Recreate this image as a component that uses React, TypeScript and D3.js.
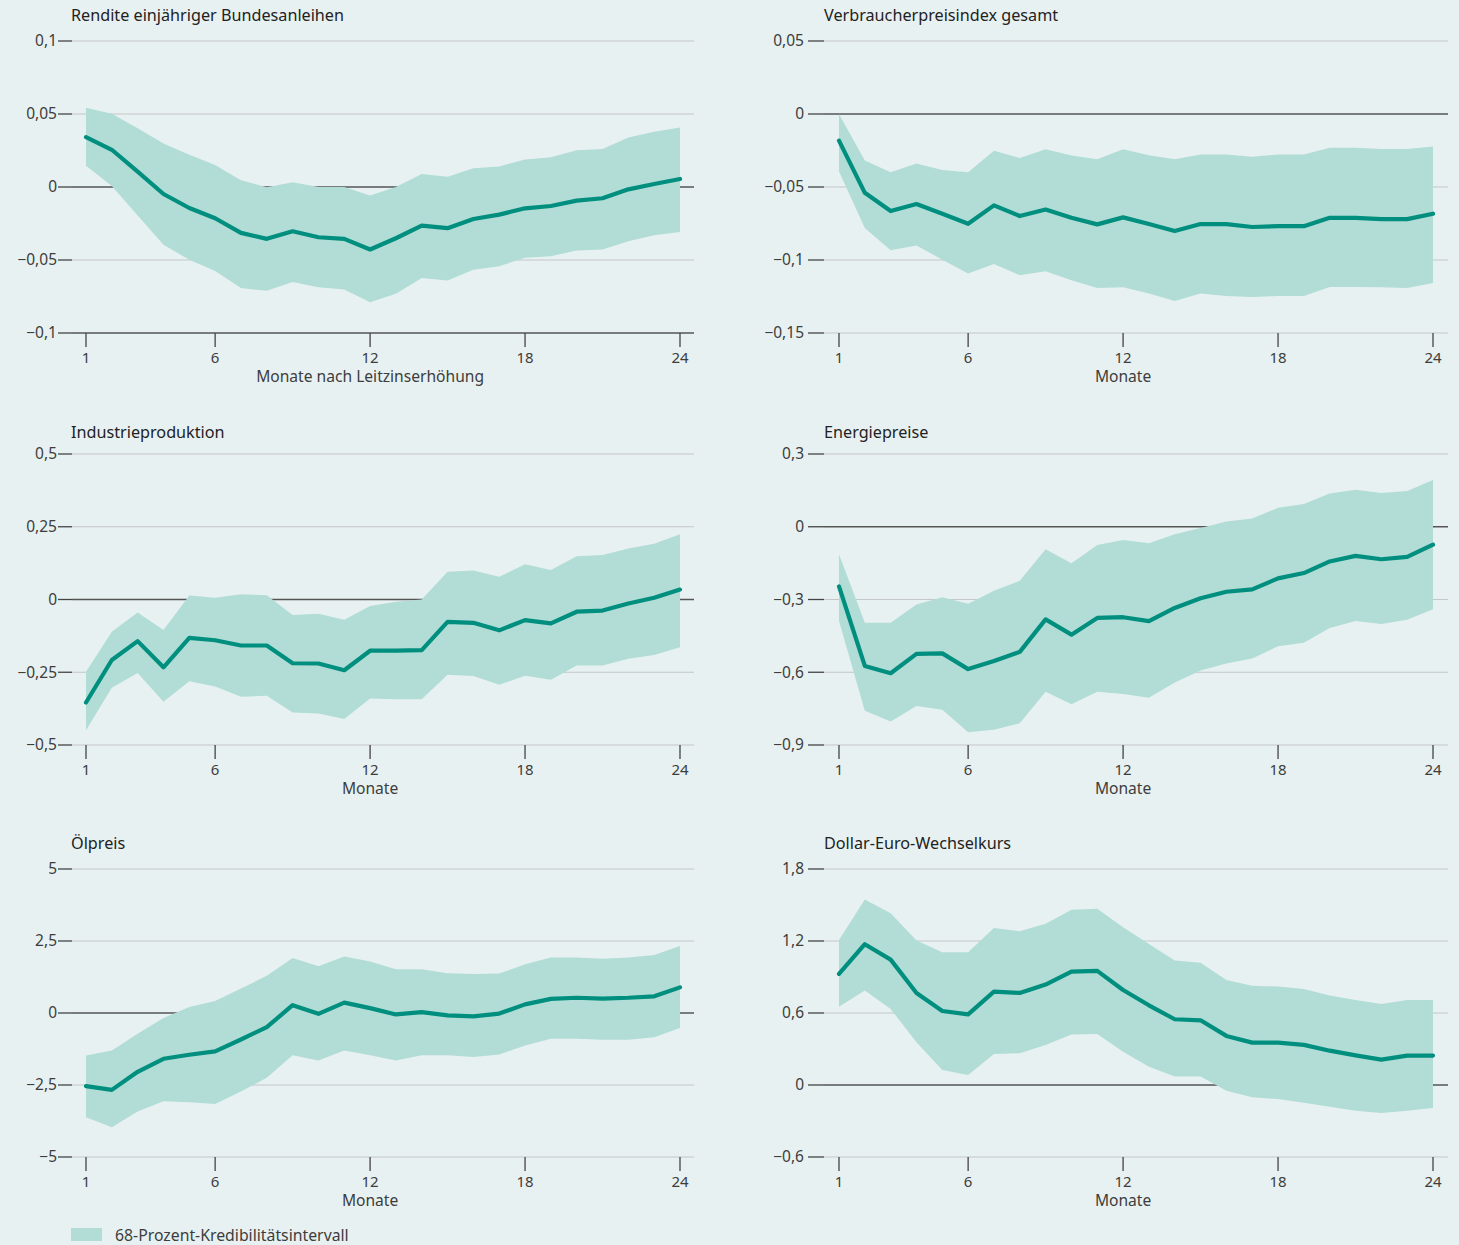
import React from 'react'
import * as d3 from 'd3'

const months = d3.range(1, 25)
const xTickValues = [1, 6, 12, 18, 24]

// Rendite einjähriger Bundesanleihen
const bundMid = [0.0342, 0.0255, 0.0105, -0.0048, -0.0144, -0.0214, -0.0314, -0.0355, -0.0303, -0.0344, -0.0355, -0.0428, -0.0351, -0.0264, -0.0282, -0.0219, -0.0189, -0.0146, -0.013, -0.0093, -0.0077, -0.0016, 0.0021, 0.0055]
const bundHi = [0.0542, 0.0501, 0.0403, 0.0298, 0.0221, 0.015, 0.0046, -0.0002, 0.0032, 0, 0, -0.0059, 0, 0.0089, 0.0071, 0.0128, 0.0141, 0.0189, 0.0203, 0.0251, 0.026, 0.0339, 0.0378, 0.0408]
const bundLo = [0.0146, 0.0007, -0.0196, -0.0396, -0.0499, -0.0576, -0.0692, -0.0711, -0.0651, -0.0686, -0.0702, -0.079, -0.0731, -0.0624, -0.064, -0.0567, -0.0542, -0.0485, -0.0474, -0.0435, -0.0428, -0.0371, -0.033, -0.0308]

// Verbraucherpreisindex gesamt
const vpiMid = [-0.0182, -0.054, -0.0665, -0.0617, -0.0683, -0.0752, -0.0626, -0.0699, -0.0654, -0.0711, -0.0756, -0.0708, -0.0754, -0.0802, -0.0754, -0.0754, -0.0774, -0.0768, -0.0768, -0.0711, -0.0711, -0.072, -0.072, -0.0683]
const vpiHi = [0, -0.0319, -0.0399, -0.0339, -0.0383, -0.0399, -0.0251, -0.0301, -0.0241, -0.0285, -0.031, -0.0241, -0.0282, -0.031, -0.0278, -0.0278, -0.0292, -0.0278, -0.0278, -0.0232, -0.0232, -0.0239, -0.0239, -0.0223]
const vpiLo = [-0.0394, -0.0781, -0.0934, -0.09, -0.0998, -0.1093, -0.1027, -0.1105, -0.1077, -0.1139, -0.1191, -0.1187, -0.123, -0.128, -0.123, -0.1246, -0.1253, -0.1246, -0.1246, -0.1185, -0.1185, -0.1187, -0.1191, -0.1157]

// Industrieproduktion
const indMid = [-0.354, -0.208, -0.143, -0.233, -0.132, -0.14, -0.158, -0.158, -0.219, -0.22, -0.243, -0.176, -0.176, -0.174, -0.077, -0.08, -0.106, -0.071, -0.082, -0.042, -0.038, -0.014, 0.006, 0.034]
const indHi = [-0.248, -0.111, -0.045, -0.105, 0.014, 0.006, 0.018, 0.015, -0.053, -0.049, -0.07, -0.022, -0.008, 0, 0.095, 0.1, 0.078, 0.121, 0.101, 0.149, 0.153, 0.175, 0.192, 0.224]
const indLo = [-0.449, -0.303, -0.253, -0.351, -0.281, -0.299, -0.334, -0.331, -0.388, -0.392, -0.411, -0.34, -0.343, -0.343, -0.259, -0.263, -0.293, -0.262, -0.276, -0.227, -0.227, -0.204, -0.191, -0.164]

// Energiepreise
const enMid = [-0.246, -0.574, -0.604, -0.524, -0.522, -0.587, -0.554, -0.516, -0.382, -0.445, -0.376, -0.373, -0.389, -0.335, -0.295, -0.268, -0.258, -0.213, -0.191, -0.143, -0.12, -0.134, -0.124, -0.074]
const enHi = [-0.113, -0.396, -0.396, -0.321, -0.291, -0.318, -0.264, -0.223, -0.093, -0.15, -0.075, -0.055, -0.068, -0.031, -0.005, 0.022, 0.034, 0.078, 0.094, 0.137, 0.153, 0.139, 0.147, 0.193]
const enLo = [-0.389, -0.759, -0.803, -0.739, -0.755, -0.847, -0.837, -0.81, -0.68, -0.732, -0.68, -0.69, -0.705, -0.642, -0.593, -0.564, -0.543, -0.493, -0.478, -0.418, -0.389, -0.401, -0.384, -0.34]

// Ölpreis
const oilMid = [-2.54, -2.67, -2.04, -1.59, -1.45, -1.33, -0.92, -0.49, 0.27, -0.03, 0.36, 0.17, -0.05, 0.03, -0.08, -0.12, -0.02, 0.3, 0.49, 0.53, 0.5, 0.53, 0.58, 0.89]
const oilHi = [-1.48, -1.3, -0.72, -0.17, 0.21, 0.42, 0.85, 1.29, 1.91, 1.62, 1.96, 1.79, 1.52, 1.52, 1.38, 1.35, 1.37, 1.69, 1.93, 1.93, 1.88, 1.93, 2.01, 2.33]
const oilLo = [-3.62, -3.97, -3.42, -3.06, -3.1, -3.16, -2.73, -2.25, -1.47, -1.65, -1.3, -1.47, -1.65, -1.47, -1.47, -1.53, -1.44, -1.13, -0.89, -0.89, -0.93, -0.93, -0.84, -0.52]

// Dollar-Euro-Wechselkurs
const fxMid = [0.926, 1.173, 1.045, 0.767, 0.617, 0.589, 0.778, 0.767, 0.837, 0.945, 0.951, 0.792, 0.664, 0.548, 0.539, 0.409, 0.353, 0.353, 0.334, 0.286, 0.247, 0.211, 0.245, 0.245]
const fxHi = [1.209, 1.546, 1.432, 1.204, 1.106, 1.106, 1.309, 1.282, 1.343, 1.46, 1.468, 1.315, 1.176, 1.037, 1.018, 0.876, 0.828, 0.82, 0.801, 0.745, 0.709, 0.676, 0.709, 0.709]
const fxLo = [0.653, 0.787, 0.634, 0.356, 0.125, 0.083, 0.259, 0.264, 0.334, 0.42, 0.425, 0.278, 0.153, 0.07, 0.07, -0.047, -0.103, -0.117, -0.147, -0.181, -0.214, -0.234, -0.214, -0.192]

const bundTicks = [-0.1, -0.05, 0, 0.05, 0.1]
const vpiTicks = [-0.15, -0.1, -0.05, 0, 0.05]
const indTicks = [-0.5, -0.25, 0, 0.25, 0.5]
const enTicks = [-0.9, -0.6, -0.3, 0, 0.3]
const oilTicks = [-5, -2.5, 0, 2.5, 5]
const fxTicks = [-0.6, 0, 0.6, 1.2, 1.8]

const panels = [
  { title: 'Rendite einjähriger Bundesanleihen', xTitle: 'Monate nach Leitzinserhöhung', col: 0, row: 0, ticks: bundTicks, mid: bundMid, hi: bundHi, lo: bundLo, darkBottom: true },
  { title: 'Verbraucherpreisindex gesamt', xTitle: 'Monate', col: 1, row: 0, ticks: vpiTicks, mid: vpiMid, hi: vpiHi, lo: vpiLo },
  { title: 'Industrieproduktion', xTitle: 'Monate', col: 0, row: 1, ticks: indTicks, mid: indMid, hi: indHi, lo: indLo },
  { title: 'Energiepreise', xTitle: 'Monate', col: 1, row: 1, ticks: enTicks, mid: enMid, hi: enHi, lo: enLo },
  { title: 'Ölpreis', xTitle: 'Monate', col: 0, row: 2, ticks: oilTicks, mid: oilMid, hi: oilHi, lo: oilLo },
  { title: 'Dollar-Euro-Wechselkurs', xTitle: 'Monate', col: 1, row: 2, ticks: fxTicks, mid: fxMid, hi: fxHi, lo: fxLo },
]

const cols = [
  { tick0: 58, plot0: 72, plot1: 694, m1: 86, m24: 680, titleX: 71 },
  { tick0: 808, plot0: 824, plot1: 1448, m1: 839, m24: 1433, titleX: 824 },
]
const rows = [
  { top: 41, bottom: 333, titleY: 15 },
  { top: 454, bottom: 745, titleY: 432 },
  { top: 869, bottom: 1157, titleY: 843 },
]

const bg = '#e8f1f1'
const bandColor = '#b1ddd6'
const lineColor = '#008f7f'
const font = "'Noto Sans', 'Open Sans', sans-serif"
const textColor = '#3d3d3d'

const fmt = (v: number) => String(v).replace('.', ',').replace('-', '\u2212')

const Panel = ({ p }: { p: (typeof panels)[number] }) => {
  const c = cols[p.col]
  const r = rows[p.row]
  const x = d3.scaleLinear().domain([1, 24]).range([c.m1, c.m24])
  const y = d3.scaleLinear().domain(d3.extent(p.ticks) as [number, number]).range([r.bottom, r.top])
  const band = d3.area<number>().x((m) => x(m)).y0((m, i) => y(p.lo[i])).y1((m, i) => y(p.hi[i]))
  const line = d3.line<number>().x((m) => x(m)).y((m, i) => y(p.mid[i]))
  const minTick = d3.min(p.ticks)

  return (
    <g>
      <text x={c.titleX} y={r.titleY + 5.5} fontSize={16.2} fill="#222">{p.title}</text>
      {p.ticks.map((t) => {
        const dark = t === 0 || (p.darkBottom && t === minTick)
        return (
          <g key={t}>
            <line x1={c.plot0} x2={c.plot1} y1={y(t)} y2={y(t)} stroke={dark ? '#555' : '#c3c7c9'} strokeWidth={dark ? 1.3 : 1.2} />
            <line x1={c.tick0} x2={c.plot0} y1={y(t)} y2={y(t)} stroke="#444" strokeWidth={1.3} />
            <text x={c.tick0 - (p.col === 1 ? 4 : 1)} y={y(t)} dy="0.35em" textAnchor="end" fontSize={15.5} fill={textColor}>{fmt(t)}</text>
          </g>
        )
      })}
      <path d={band(months) ?? ''} fill={bandColor} />
      <path d={line(months) ?? ''} fill="none" stroke={lineColor} strokeWidth={4.2} strokeLinejoin="round" strokeLinecap="round" />
      {xTickValues.map((m) => (
        <g key={m}>
          <line x1={x(m)} x2={x(m)} y1={r.bottom} y2={r.bottom + 14} stroke="#444" strokeWidth={1.3} />
          <text x={x(m)} y={r.bottom + 29.5} textAnchor="middle" fontSize={15} fill={textColor}>{m}</text>
        </g>
      ))}
      <text x={x(12)} y={r.bottom + 49} textAnchor="middle" fontSize={15.6} fill={textColor}>{p.xTitle}</text>
    </g>
  )
}

export default function App() {
  return (
    <div style={{ position: 'absolute', left: 0, top: 0 }}>
      <svg width={1459} height={1245} style={{ display: 'block', background: bg, fontFamily: font }}>
        <rect width={1459} height={1245} fill={bg} />
        {panels.map((p) => (
          <Panel key={p.title} p={p} />
        ))}
        <rect x={71} y={1228} width={31} height={13} fill={bandColor} />
        <text x={115} y={1240.5} fontSize={15.8} fill={textColor}>68-Prozent-Kredibilitätsintervall</text>
      </svg>
    </div>
  )
}
